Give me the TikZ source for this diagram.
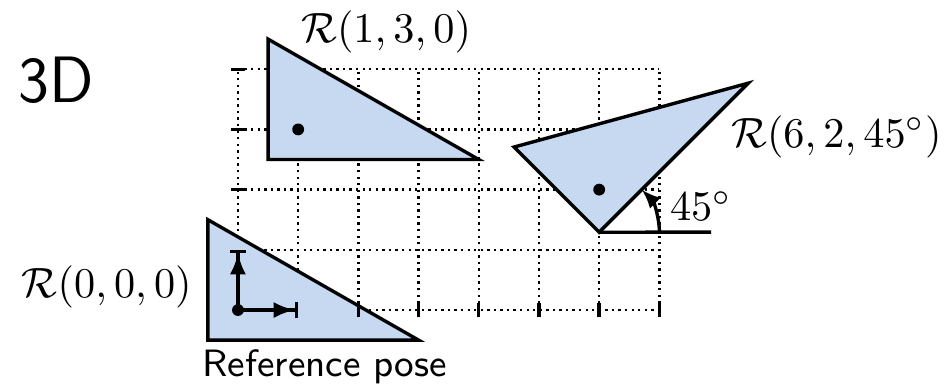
\documentclass[tikz,border=0pt]{standalone}
\usepackage{amsmath,amssymb}
\usepackage{tikz}
\usetikzlibrary{arrows.meta}
\definecolor{poseAzul}{RGB}{198,217,241}
\tikzset{
  pose/.style={thick,fill=poseAzul},
  dot/.style={circle,fill=black,inner sep=0pt,minimum size=2.8pt},
  rejilla/.style={densely dotted,line width=0.55pt},
  marca/.style={thick},
  eje/.style={thick,-{Latex[length=5pt,width=3.8pt] Bar[width=3.6pt]}}
}

\begin{document}
\begin{tikzpicture}[x=0.5cm,y=0.5cm,>={Latex[length=4.5pt,width=3.6pt]}]
  \useasboundingbox (-3.953,-1.296) rectangle (11.794,5.150);
  \draw[rejilla,step=0.5cm] (0,0) grid (7,4);
  \foreach \px/\py/\pa [count=\i] in {0/0/0,1/3/0,6/2/45}{
    \begin{scope}[shift={(\px,\py)},rotate=\pa]
      \filldraw[pose] (-0.5,-0.5) coordinate (v\i) -- (3,-0.5) -- (-0.5,1.5) -- cycle;
      \node[dot] (p\i) at (0,0) {};
    \end{scope}
  }
  \foreach \y in {2,3,4} \draw[marca] (-0.11,\y) -- (0.11,\y);
  \foreach \x in {2,...,7} \draw[marca] (\x,-0.12) -- (\x,0.12);
  \coordinate (ex) at (1,0);
  \coordinate (ey) at (0,1);
  \draw[eje] (p1.center) -- (ex);
  \draw[eje] (p1.center) -- (ey);
  \coordinate (a0) at (7.86,1.293);
  \draw[thick] (v3) -- (a0);
  \draw[thick,->] (v3) ++(1,0) arc[start angle=0,end angle=45,radius=1];
  \node (t3d) at (-3.02,3.82) {\sffamily\fontsize{15.5}{18}\selectfont 3D};
  \node (r1) at (-2.18,0.39) {$\mathcal{R}(0,0,0)$};
  \node (r2) at (2.46,4.62) {$\mathcal{R}(1,3,0)$};
  \node (r3) at (9.94,2.88) {$\mathcal{R}(6,2,45^\circ)$};
  \node (ang) at (7.69,1.73) {$45^\circ$};
  \node[anchor=base] (ref) at (1.44,-1.11) {\sffamily\small Reference pose};
\end{tikzpicture}
\end{document}
